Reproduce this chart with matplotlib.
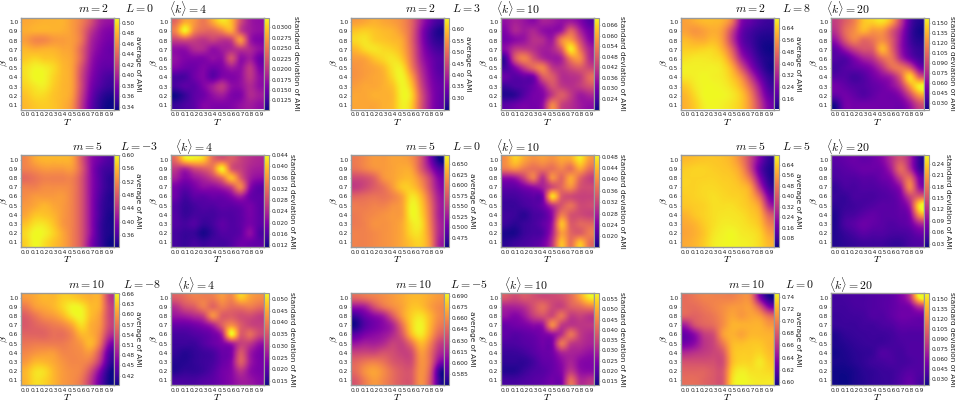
import matplotlib
matplotlib.use("Agg")
import matplotlib.pyplot as plt
import numpy as np

plt.rcParams['mathtext.fontset'] = 'cm'

T_ticks = [0.0, 0.1, 0.2, 0.3, 0.4, 0.5, 0.6, 0.7, 0.8, 0.9]
beta_ticks = [0.1, 0.2, 0.3, 0.4, 0.5, 0.6, 0.7, 0.8, 0.9, 1.0]

# rows run from beta = 1.0 (top) to beta = 0.1 (bottom); columns T = 0.0 .. 0.9
avg_m2_L0 = [
[.475,.478,.48,.48,.48,.47,.455,.43,.40,.39],
[.478,.48,.48,.48,.478,.47,.45,.415,.39,.38],
[.47,.46,.46,.468,.47,.47,.45,.405,.385,.375],
[.482,.478,.48,.48,.475,.47,.44,.40,.38,.37],
[.49,.495,.49,.488,.48,.472,.44,.395,.375,.37],
[.50,.507,.505,.497,.483,.472,.43,.39,.37,.365],
[.50,.51,.508,.495,.483,.472,.425,.385,.365,.355],
[.495,.503,.505,.492,.482,.472,.425,.38,.36,.35],
[.488,.497,.497,.488,.482,.47,.42,.375,.35,.34],
[.484,.49,.492,.488,.48,.465,.415,.37,.345,.335]]
std_m2_L0 = [
[.024,.028,.027,.025,.028,.031,.029,.022,.018,.017],
[.026,.032,.026,.024,.024,.026,.028,.021,.018,.017],
[.021,.022,.021,.020,.021,.020,.021,.027,.018,.016],
[.017,.017,.019,.019,.017,.018,.019,.020,.019,.017],
[.017,.016,.016,.016,.017,.017,.022,.017,.018,.015],
[.016,.015,.015,.016,.015,.016,.018,.017,.020,.016],
[.013,.013,.015,.016,.014,.016,.016,.017,.020,.017],
[.013,.014,.014,.016,.018,.020,.017,.017,.019,.017],
[.0105,.012,.014,.015,.017,.018,.016,.016,.019,.018],
[.012,.013,.014,.016,.016,.016,.016,.017,.018,.017]]
avg_m2_L3 = [
[.56,.57,.58,.57,.56,.54,.49,.40,.33,.29],
[.60,.61,.60,.59,.58,.55,.49,.38,.30,.26],
[.62,.63,.61,.60,.59,.57,.49,.38,.30,.27],
[.59,.62,.63,.62,.61,.58,.50,.39,.32,.29],
[.56,.57,.60,.62,.63,.60,.51,.40,.34,.31],
[.55,.56,.57,.59,.63,.63,.53,.42,.35,.31],
[.55,.56,.57,.58,.62,.645,.57,.44,.36,.32],
[.56,.57,.57,.58,.60,.645,.60,.46,.37,.33],
[.57,.57,.58,.58,.59,.645,.62,.48,.38,.33],
[.57,.57,.57,.58,.59,.64,.61,.48,.38,.33]]
std_m2_L3 = [
[.034,.037,.035,.033,.037,.036,.034,.036,.032,.026],
[.032,.038,.036,.038,.034,.033,.036,.049,.038,.030],
[.030,.033,.035,.040,.039,.036,.054,.058,.045,.033],
[.033,.041,.042,.040,.037,.038,.048,.068,.052,.038],
[.024,.046,.054,.046,.039,.036,.038,.054,.056,.040],
[.024,.032,.042,.050,.054,.042,.040,.045,.048,.044],
[.028,.026,.028,.030,.047,.048,.040,.040,.042,.050],
[.023,.025,.026,.029,.036,.046,.042,.040,.042,.046],
[.020,.021,.026,.030,.032,.042,.048,.042,.036,.038],
[.026,.028,.030,.030,.034,.054,.044,.040,.036,.034]]
avg_m2_L8 = [
[.58,.60,.62,.62,.60,.50,.26,.20,.16,.14],
[.58,.56,.58,.60,.56,.40,.22,.16,.13,.12],
[.62,.60,.60,.62,.56,.38,.21,.15,.11,.10],
[.65,.65,.66,.66,.60,.45,.25,.17,.11,.09],
[.68,.69,.69,.68,.65,.52,.32,.21,.13,.10],
[.70,.70,.70,.70,.68,.60,.43,.27,.16,.10],
[.69,.70,.71,.70,.69,.64,.54,.37,.22,.13],
[.65,.69,.71,.71,.70,.67,.60,.46,.29,.16],
[.62,.67,.712,.712,.71,.69,.64,.52,.34,.20],
[.61,.65,.70,.71,.70,.68,.64,.54,.38,.24]]
std_m2_L8 = [
[.085,.10,.115,.14,.145,.15,.13,.085,.04,.025],
[.08,.105,.12,.135,.125,.125,.10,.07,.035,.022],
[.065,.095,.115,.105,.11,.12,.10,.065,.035,.025],
[.045,.065,.085,.095,.10,.135,.105,.065,.04,.03],
[.04,.04,.055,.07,.08,.105,.11,.075,.05,.035],
[.035,.04,.045,.05,.06,.08,.105,.11,.095,.055],
[.04,.04,.035,.04,.05,.06,.07,.10,.145,.10],
[.05,.045,.04,.04,.045,.05,.06,.08,.125,.155],
[.045,.05,.045,.04,.045,.05,.05,.06,.09,.125],
[.025,.05,.05,.05,.05,.05,.05,.05,.065,.09]]
avg_m5_Lm3 = [
[.52,.545,.555,.555,.555,.545,.48,.41,.38,.36],
[.515,.525,.535,.535,.535,.535,.485,.41,.365,.35],
[.495,.505,.515,.515,.515,.515,.475,.41,.365,.34],
[.515,.515,.525,.525,.525,.515,.475,.41,.365,.34],
[.525,.535,.535,.535,.535,.515,.475,.41,.36,.335],
[.535,.545,.555,.545,.535,.515,.475,.41,.355,.335],
[.545,.565,.565,.555,.535,.515,.475,.41,.355,.33],
[.565,.585,.585,.565,.535,.515,.475,.41,.35,.33],
[.58,.60,.595,.575,.545,.515,.475,.41,.35,.33],
[.575,.60,.585,.565,.545,.515,.475,.40,.35,.325]]
std_m5_Lm3 = [
[.032,.041,.042,.040,.032,.030,.030,.027,.025,.024],
[.026,.024,.028,.030,.033,.043,.030,.027,.024,.023],
[.023,.020,.022,.024,.027,.032,.039,.030,.023,.021],
[.019,.017,.019,.021,.021,.023,.027,.034,.021,.017],
[.018,.015,.017,.017,.018,.018,.020,.023,.018,.017],
[.016,.014,.015,.016,.016,.017,.017,.018,.019,.017],
[.016,.014,.015,.015,.015,.016,.016,.017,.019,.017],
[.016,.015,.016,.014,.015,.017,.016,.017,.019,.017],
[.015,.014,.014,.012,.014,.016,.016,.017,.021,.016],
[.015,.014,.015,.014,.015,.015,.016,.018,.018,.017]]
avg_m5_L0 = [
[.60,.61,.62,.62,.625,.625,.615,.575,.51,.455],
[.595,.605,.615,.62,.625,.63,.625,.58,.53,.485],
[.565,.57,.585,.615,.625,.635,.635,.605,.56,.51],
[.555,.565,.58,.595,.62,.645,.645,.62,.57,.52],
[.585,.59,.595,.595,.605,.625,.66,.64,.585,.53],
[.60,.60,.605,.605,.615,.625,.668,.65,.595,.535],
[.60,.605,.61,.615,.62,.625,.668,.655,.60,.535],
[.60,.605,.615,.615,.62,.63,.66,.66,.605,.54],
[.605,.605,.61,.615,.62,.63,.655,.655,.61,.54],
[.605,.605,.61,.615,.62,.63,.645,.65,.615,.535]]
std_m5_L0 = [
[.040,.045,.042,.040,.041,.040,.042,.042,.047,.041],
[.038,.040,.038,.037,.037,.037,.039,.037,.042,.037],
[.026,.027,.032,.038,.030,.040,.036,.042,.036,.032],
[.022,.022,.024,.026,.028,.033,.036,.040,.034,.033],
[.020,.020,.021,.022,.024,.046,.035,.033,.032,.032],
[.019,.019,.020,.021,.023,.030,.034,.037,.033,.033],
[.0195,.019,.018,.020,.021,.026,.038,.034,.033,.032],
[.019,.018,.019,.020,.022,.027,.044,.035,.036,.036],
[.017,.017,.019,.020,.021,.028,.041,.036,.035,.038],
[.018,.019,.020,.021,.023,.030,.044,.037,.044,.037]]
avg_m5_L5 = [
[.61,.62,.63,.63,.62,.59,.50,.35,.18,.06],
[.64,.65,.65,.64,.63,.61,.54,.36,.14,.04],
[.65,.65,.65,.65,.64,.63,.58,.45,.20,.05],
[.65,.65,.66,.66,.65,.64,.62,.55,.30,.09],
[.64,.65,.66,.67,.66,.65,.64,.59,.44,.18],
[.63,.64,.65,.67,.67,.67,.65,.62,.54,.28],
[.60,.63,.65,.67,.68,.68,.67,.64,.59,.42],
[.58,.60,.64,.67,.69,.69,.68,.66,.62,.50],
[.57,.59,.63,.68,.70,.71,.69,.68,.65,.56],
[.58,.60,.64,.69,.705,.71,.70,.69,.66,.60]]
std_m5_L5 = [
[.06,.065,.07,.065,.07,.085,.12,.15,.11,.04],
[.055,.06,.065,.07,.07,.075,.11,.17,.12,.045],
[.05,.055,.055,.06,.06,.07,.085,.14,.17,.08],
[.04,.05,.05,.055,.055,.06,.07,.10,.19,.10],
[.04,.04,.05,.05,.05,.055,.06,.08,.14,.16],
[.035,.04,.045,.05,.055,.06,.06,.07,.11,.25],
[.03,.045,.05,.06,.065,.06,.06,.065,.085,.20],
[.03,.05,.06,.07,.065,.06,.055,.06,.07,.11],
[.03,.04,.05,.06,.055,.055,.05,.05,.055,.07],
[.03,.035,.04,.045,.045,.045,.04,.04,.05,.055]]
avg_m10_Lm8 = [
[.60,.61,.62,.62,.635,.635,.625,.615,.61,.52],
[.575,.60,.61,.62,.64,.66,.655,.625,.61,.53],
[.55,.57,.59,.60,.62,.65,.66,.625,.60,.53],
[.545,.555,.565,.575,.585,.61,.645,.615,.595,.53],
[.555,.555,.555,.565,.565,.585,.62,.615,.585,.51],
[.57,.575,.575,.575,.575,.585,.60,.62,.57,.47],
[.585,.595,.60,.60,.585,.585,.59,.595,.535,.435],
[.60,.62,.62,.61,.595,.585,.585,.57,.51,.42],
[.62,.645,.645,.62,.60,.59,.58,.535,.465,.40],
[.62,.645,.64,.62,.60,.59,.57,.515,.445,.395]]
std_m10_Lm8 = [
[.036,.038,.040,.040,.040,.043,.041,.048,.044,.042],
[.030,.034,.036,.040,.037,.040,.038,.039,.040,.038],
[.026,.027,.029,.032,.042,.036,.036,.034,.034,.032],
[.021,.021,.022,.024,.028,.036,.042,.036,.033,.032],
[.018,.018,.019,.020,.022,.028,.052,.036,.038,.033],
[.017,.017,.017,.019,.021,.023,.027,.032,.031,.026],
[.016,.015,.016,.017,.018,.021,.023,.035,.027,.023],
[.015,.015,.016,.017,.018,.021,.024,.036,.027,.023],
[.015,.016,.016,.017,.019,.022,.024,.030,.025,.023],
[.018,.018,.018,.019,.020,.022,.024,.027,.026,.024]]
avg_m10_Lm5 = [
[.645,.65,.655,.66,.665,.67,.675,.675,.67,.665],
[.61,.615,.635,.65,.66,.668,.678,.678,.668,.66],
[.582,.595,.605,.615,.64,.665,.682,.688,.675,.66],
[.572,.588,.597,.605,.618,.65,.682,.693,.675,.655],
[.59,.60,.605,.61,.62,.64,.675,.69,.67,.645],
[.61,.615,.615,.62,.63,.63,.65,.675,.658,.63],
[.63,.632,.632,.637,.635,.63,.635,.665,.65,.62],
[.645,.652,.655,.65,.64,.635,.635,.662,.648,.605],
[.648,.662,.668,.66,.648,.64,.64,.662,.642,.58],
[.64,.655,.665,.658,.648,.64,.64,.662,.638,.58]]
std_m10_Lm5 = [
[.038,.036,.038,.037,.036,.036,.037,.041,.048,.056],
[.030,.030,.032,.037,.041,.036,.035,.039,.041,.044],
[.027,.025,.028,.034,.037,.036,.042,.034,.035,.033],
[.022,.023,.024,.026,.028,.045,.034,.033,.033,.033],
[.021,.020,.021,.022,.024,.027,.032,.042,.034,.031],
[.019,.019,.020,.021,.023,.024,.042,.034,.032,.030],
[.017,.017,.018,.020,.022,.023,.030,.030,.029,.027],
[.016,.016,.016,.018,.021,.022,.026,.030,.026,.025],
[.015,.015,.017,.019,.020,.022,.025,.033,.027,.026],
[.018,.018,.019,.020,.021,.023,.024,.041,.031,.032]]
avg_m10_L0 = [
[.69,.695,.70,.70,.70,.70,.705,.70,.635,.60],
[.69,.69,.695,.70,.705,.71,.71,.71,.68,.635],
[.685,.685,.69,.695,.705,.715,.71,.715,.71,.69],
[.65,.675,.685,.69,.705,.72,.72,.72,.72,.71],
[.625,.64,.665,.675,.71,.72,.715,.722,.722,.72],
[.63,.64,.66,.67,.695,.722,.725,.728,.728,.722],
[.655,.66,.665,.67,.68,.722,.73,.73,.733,.725],
[.675,.675,.675,.675,.675,.722,.733,.733,.74,.73],
[.685,.685,.685,.68,.68,.73,.742,.738,.738,.735],
[.69,.69,.685,.68,.68,.735,.745,.742,.74,.74]]
std_m10_L0 = [
[.035,.036,.038,.038,.04,.042,.045,.055,.08,.155],
[.035,.035,.037,.038,.04,.042,.045,.05,.055,.08],
[.033,.034,.035,.036,.04,.04,.045,.05,.05,.05],
[.032,.033,.033,.035,.035,.038,.04,.045,.045,.045],
[.026,.03,.032,.033,.034,.034,.036,.04,.04,.04],
[.025,.027,.03,.032,.033,.034,.036,.038,.04,.04],
[.023,.025,.028,.03,.032,.04,.038,.036,.04,.04],
[.024,.024,.027,.03,.034,.036,.038,.036,.038,.04],
[.022,.022,.024,.028,.03,.033,.034,.038,.042,.04],
[.022,.021,.024,.027,.03,.032,.034,.04,.046,.038]]

# (data, vmin, vmax, colorbar ticks, tick format)
panels = [
 [(avg_m2_L0, .335, .510, np.arange(.34, .501, .02), '%.2f'), (std_m2_L0, .0103, .0324, np.arange(.0125, .03001, .0025), '%.4f'),
  (avg_m2_L3, .250, .650, np.arange(.30, .601, .05), '%.2f'), (std_m2_L3, .018, .0703, np.arange(.024, .0661, .006), '%.3f'),
  (avg_m2_L8, .088, .714, np.arange(.16, .641, .08), '%.2f'), (std_m2_L8, .020, .158, np.arange(.03, .1501, .015), '%.3f')],
 [(avg_m5_Lm3, .324, .600, np.arange(.36, .601, .04), '%.2f'), (std_m5_Lm3, .0114, .044, np.arange(.012, .0441, .004), '%.3f'),
  (avg_m5_L0, .454, .671, np.arange(.475, .651, .025), '%.3f'), (std_m5_L0, .0163, .0486, np.arange(.020, .0481, .004), '%.3f'),
  (avg_m5_L5, .015, .713, np.arange(.08, .641, .08), '%.2f'), (std_m5_L5, .021, .2635, np.arange(.03, .241, .03), '%.2f')],
 [(avg_m10_Lm8, .3925, .663, np.arange(.42, .661, .03), '%.2f'), (std_m10_Lm8, .0134, .0525, np.arange(.015, .0501, .005), '%.3f'),
  (avg_m10_Lm5, .5696, .6945, np.arange(.585, .6901, .015), '%.3f'), (std_m10_Lm5, .0132, .0579, np.arange(.015, .0551, .005), '%.3f'),
  (avg_m10_L0, .595, .746, np.arange(.60, .741, .02), '%.2f'), (std_m10_L0, .021, .159, np.arange(.03, .1501, .015), '%.3f')],
]

# (label, centre x in px, centre y in px)
titles = [
 ('$m=2$', 93, 9), ('$L=0$', 139, 9), (r'$\langle k\rangle=4$', 188, 9),
 ('$m=2$', 420, 9), ('$L=3$', 466, 9), (r'$\langle k\rangle=10$', 518, 9),
 ('$m=2$', 750, 9), ('$L=8$', 796, 9), (r'$\langle k\rangle=20$', 848, 9),
 ('$m=5$', 87, 147), ('$L=-3$', 139, 147), (r'$\langle k\rangle=4$', 194, 147),
 ('$m=5$', 420, 147), ('$L=0$', 466, 147), (r'$\langle k\rangle=10$', 518, 147),
 ('$m=5$', 750, 147), ('$L=5$', 796, 147), (r'$\langle k\rangle=20$', 848, 147),
 ('$m=10$', 87, 284), ('$L=-8$', 142, 284), (r'$\langle k\rangle=4$', 196, 284),
 ('$m=10$', 414, 284), ('$L=-5$', 469, 284), (r'$\langle k\rangle=10$', 526, 284),
 ('$m=10$', 747, 284), ('$L=0$', 799, 284), (r'$\langle k\rangle=20$', 851, 284),
]

W, H = 955, 403
fig = plt.figure(figsize=(W / 100, H / 100), dpi=100, facecolor='white')
lefts = [21, 171, 351, 501, 681, 831]
tops = [17.5, 155, 293]
AW, AH, CW = 92.5, 92, 4.7
GRAY = '#9a9a9a'

def px_axes(x, y, w, h):
    return fig.add_axes([x / W, 1 - (y + h) / H, w / W, h / H])

for top, row in zip(tops, panels):
    for i, (left, p) in enumerate(zip(lefts, row)):
        data, vmin, vmax, cticks, fmt = p
        ax = px_axes(left, top, AW, AH)
        im = ax.imshow(np.array(data), cmap='plasma', vmin=vmin, vmax=vmax, origin='upper',
                       extent=(-0.05, 0.95, 0.05, 1.05), aspect='auto', interpolation='spline16')
        ax.set_xticks(T_ticks)
        ax.set_yticks(beta_ticks)
        ax.set_xticklabels(['%.1f' % t for t in T_ticks])
        ax.set_yticklabels(['%.1f' % b for b in beta_ticks])
        ax.tick_params(labelsize=4.2, length=1, width=0.4, color=GRAY, pad=1.0, labelcolor='#222222')
        ax.set_xlabel('$T$', fontsize=7)
        ax.set_ylabel(r'$\beta$', fontsize=7)
        ax.xaxis.set_label_coords(0.5, -7.5 / AH)
        ax.yaxis.set_label_coords(-11 / AW, 0.5)
        for s in ax.spines.values():
            s.set_color(GRAY)
            s.set_linewidth(1.0)
        cax = px_axes(left + AW + 0.5, top, CW, AH)
        cb = fig.colorbar(im, cax=cax, ticks=cticks)
        cb.ax.set_yticklabels([fmt % v for v in cticks])
        cb.ax.tick_params(labelsize=4.2, length=1, width=0.4, color=GRAY, pad=0.8, labelcolor='#222222')
        cb.outline.set_edgecolor(GRAY)
        cb.outline.set_linewidth(0.8)
        label = 'average of AMI' if i % 2 == 0 else 'standard deviation of AMI'
        cb.set_label(label, rotation=270, va='bottom', fontsize=5.3, labelpad=0.5, color='#222222')

for s, x, y in titles:
    fig.text(x / W, 1 - y / H, s, fontsize=8.5, ha='center', va='center', color='#111111')

fig.savefig('out.png', dpi=100)
